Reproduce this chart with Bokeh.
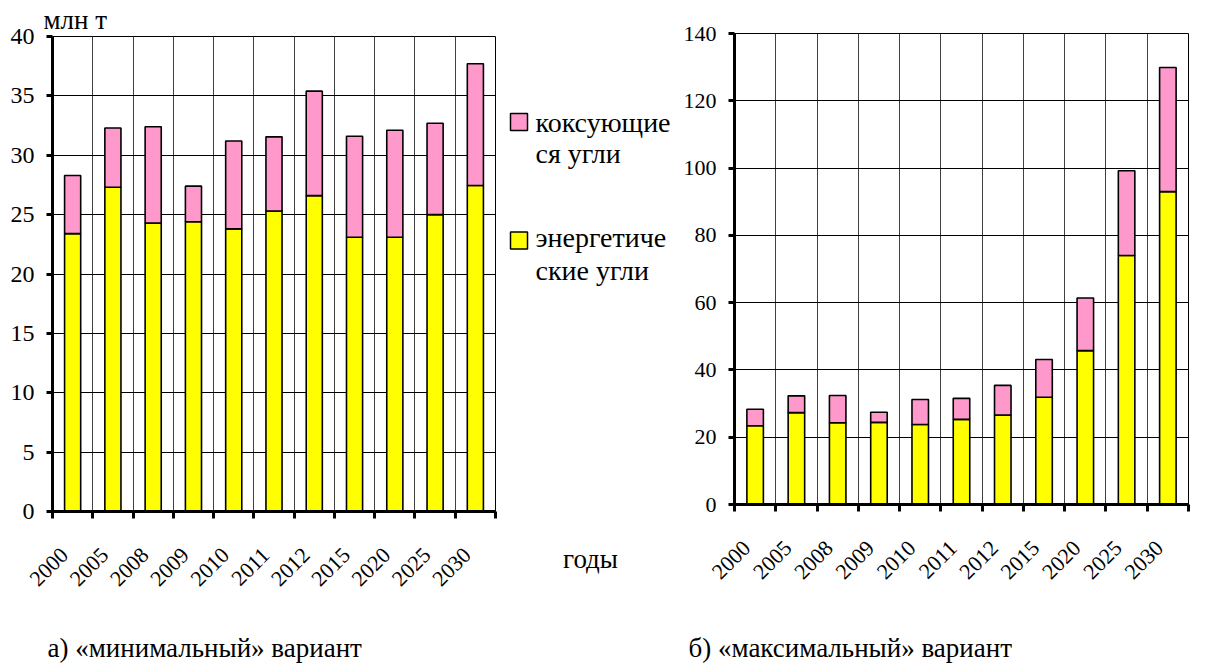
import math
from bokeh.plotting import figure
from bokeh.models import ColumnDataSource, Range1d, FixedTicker
from bokeh.core.properties import value
from bokeh.layouts import row, column
from bokeh.embed import file_html
from bokeh.resources import INLINE

years = ["2000", "2005", "2008", "2009", "2010", "2011", "2012", "2015", "2020", "2025", "2030"]

# минимальный вариант, млн т
min_energy = [23.4, 27.3, 24.3, 24.4, 23.8, 25.3, 26.6, 23.1, 23.1, 25.0, 27.45]
min_coking = [4.9, 5.0, 8.1, 3.0, 7.4, 6.25, 8.8, 8.5, 9.0, 7.7, 10.25]

# максимальный вариант, млн т
max_energy = [23.4, 27.3, 24.3, 24.4, 23.8, 25.3, 26.6, 31.9, 45.75, 74.0, 93.0]
max_coking = [4.9, 5.0, 8.1, 3.0, 7.4, 6.25, 8.8, 11.2, 15.65, 25.2, 36.9]

y_ticks_min = [0, 5, 10, 15, 20, 25, 30, 35, 40]
y_ticks_max = [0, 20, 40, 60, 80, 100, 120, 140]

legend_lines = [["коксующие", "ся угли"], ["энергетиче", "ские угли"]]
captions = ["а) «минимальный» вариант", "б) «максимальный» вариант"]

PINK = "#FF99CC"
YELLOW = "#FFFF00"
FONT = "Liberation Serif"
ROW_H = 604
PAGE_H = 664


def make_fig(energy, coking, ymax, yticks, width, bl, br, top, bottom, ylab_size):
    n = len(years)
    src = ColumnDataSource(dict(
        x=[i + 0.5 for i in range(n)],
        energy=energy,
        coking=coking,
    ))
    p = figure(width=width, height=ROW_H, output_backend="svg", toolbar_location=None,
               x_range=Range1d(0, n), y_range=Range1d(0, ymax),
               min_border_left=bl, min_border_right=br, min_border_top=top,
               min_border_bottom=ROW_H - bottom)
    p.background_fill_color = "white"
    p.border_fill_color = "white"
    p.outline_line_color = "black"
    p.outline_line_width = 1

    p.vbar_stack(["energy", "coking"], x="x", width=0.4, source=src,
                 fill_color=[YELLOW, PINK], line_color="black", line_width=1.6)

    # x axis: tick marks at category borders (minor), labels (major, invisible ticks)
    boundaries = list(range(n + 1))
    label_pos = [i + 0.3 for i in range(n)]
    p.xaxis.ticker = FixedTicker(ticks=label_pos, minor_ticks=boundaries)
    p.xaxis.major_label_overrides = {v: y for v, y in zip(label_pos, years)}
    p.xaxis.major_label_orientation = math.pi / 4
    p.xaxis.major_label_text_font = FONT
    p.xaxis.major_label_text_font_size = "22px"
    p.xaxis.major_label_text_color = "black"
    p.xaxis.major_label_standoff = 33
    p.xaxis.axis_line_width = 3
    p.xaxis.major_tick_line_color = None
    p.xaxis.major_tick_out = 0
    p.xaxis.major_tick_in = 0
    p.xaxis.minor_tick_line_color = "black"
    p.xaxis.minor_tick_line_width = 3
    p.xaxis.minor_tick_out = 7
    p.xaxis.minor_tick_in = 0

    p.yaxis.ticker = FixedTicker(ticks=yticks)
    p.yaxis.axis_line_width = 3
    p.yaxis.major_tick_line_width = 3
    p.yaxis.major_tick_out = 6
    p.yaxis.major_tick_in = 0
    p.yaxis.minor_tick_line_color = None
    p.yaxis.major_label_text_font = FONT
    p.yaxis.major_label_text_font_size = ylab_size
    p.yaxis.major_label_text_color = "black"
    p.yaxis.major_label_standoff = 12

    p.xgrid.ticker = FixedTicker(ticks=boundaries)
    p.xgrid.grid_line_color = "#404040"
    p.xgrid.grid_line_width = 1
    p.ygrid.ticker = FixedTicker(ticks=yticks)
    p.ygrid.grid_line_color = "black"
    p.ygrid.grid_line_width = 1
    return p


# left chart: frame x 52..495, y 36..511
P1_TOP, P1_BOTTOM = 36, 511
p1 = make_fig(min_energy, min_coking, 40, y_ticks_min, 500, 52, 5, P1_TOP, P1_BOTTOM, "24px")
p1.title.text = "млн т"
p1.title.align = "left"
p1.title.offset = -9
p1.title.standoff = 3
p1.title.text_font = FONT
p1.title.text_font_size = "27px"
p1.title.text_font_style = "normal"
p1.title.text_color = "black"

# right chart: frame x 732..1188, y 33..504
p2 = make_fig(max_energy, max_coking, 140, y_ticks_max, 533, 52, 25, 33, 504, "22px")

# middle strip: legend and the "годы" axis title; data units = page pixels (y up)
LW = 180
pL = figure(width=LW, height=ROW_H, output_backend="svg", toolbar_location=None,
            x_range=Range1d(0, LW), y_range=Range1d(ROW_H - P1_BOTTOM, ROW_H - P1_TOP),
            y_axis_type=None,
            min_border_left=0, min_border_right=0, min_border_top=P1_TOP,
            min_border_bottom=ROW_H - P1_BOTTOM)
pL.grid.visible = False
pL.outline_line_color = None
pL.background_fill_color = "white"
pL.border_fill_color = "white"
pL.xaxis.ticker = FixedTicker(ticks=[])
pL.xaxis.axis_line_color = None
pL.xaxis.major_tick_line_color = None
pL.xaxis.minor_tick_line_color = None
pL.xaxis.major_label_text_font_size = "0px"
pL.xaxis.axis_label = "годы"
pL.xaxis.axis_label_text_font = FONT
pL.xaxis.axis_label_text_font_size = "27px"
pL.xaxis.axis_label_text_font_style = "normal"
pL.xaxis.axis_label_text_color = "black"
pL.xaxis.axis_label_standoff = 32

# legend layout (page pixels from the top)
sw_y = [121.5, 240]
l1_y = [122, 237]
l2_y = [153, 270]
leg = ColumnDataSource(dict(
    sx=[18.5, 18.5], sy=[ROW_H - v for v in sw_y], color=[PINK, YELLOW],
    tx=[35, 35], ty1=[ROW_H - v for v in l1_y], ty2=[ROW_H - v for v in l2_y],
    line1=[l[0] for l in legend_lines], line2=[l[1] for l in legend_lines],
))
pL.rect(x="sx", y="sy", width=17, height=17, width_units="screen", height_units="screen",
        fill_color="color", line_color="black", line_width=1.5, source=leg)
for col, ycol in (("line1", "ty1"), ("line2", "ty2")):
    pL.text(x="tx", y=ycol, text=col, source=leg, text_align="left", text_baseline="middle",
            text_font=value(FONT), text_font_size="28px", text_color="black")

# bottom strip: captions
CW, CH = 1213, PAGE_H - ROW_H
pC = figure(width=CW, height=CH, output_backend="svg", toolbar_location=None,
            x_range=Range1d(0, CW), y_range=Range1d(0, CH),
            x_axis_type=None, y_axis_type=None,
            min_border_left=0, min_border_right=0, min_border_top=0, min_border_bottom=0)
pC.grid.visible = False
pC.outline_line_color = None
pC.background_fill_color = "white"
pC.border_fill_color = "white"
pC.text(x=[47, 688], y=[PAGE_H - 647] * 2, text=captions,
        text_align="left", text_baseline="middle",
        text_font=value(FONT), text_font_size="27px", text_color="black")

layout = column(row(p1, pL, column(p2)), pC)
open("out.html", "w").write(file_html(layout, INLINE))
